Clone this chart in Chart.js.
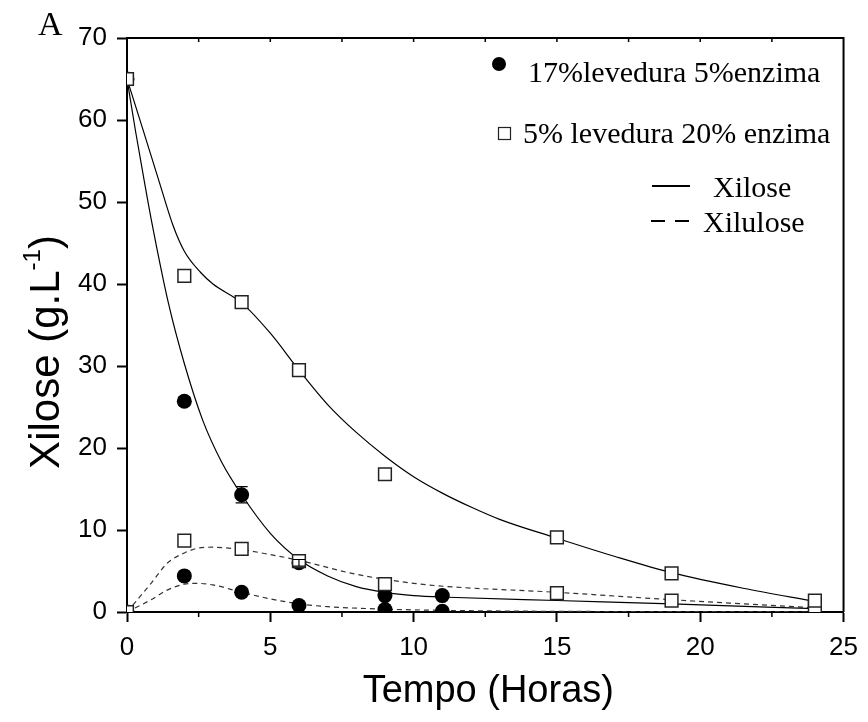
<!DOCTYPE html>
<html>
<head>
<meta charset="utf-8">
<script src="https://cdn.jsdelivr.net/npm/chart.js@4.4.1/dist/chart.umd.min.js"></script>
<style>
    html, body { margin: 0; padding: 0; background: #fff; }
    #wrap { width: 868px; height: 722px; }
</style>
</head>
<body>
<div id="wrap"><canvas id="grafico" width="868" height="722"></canvas></div>
<script>
// Ensaio 17% levedura 5% enzima (tempo em horas)
const tempoA = [0, 2, 4, 6, 9, 11];
const xiloseA = [65, 25.7, 14.3, 6.0, 2.0, 2.0];
const xiloseAErro = [0, 0.5, 1.0, 0.4, 0, 0];
const xiluloseA = [0, 4.4, 2.4, 0.8, 0.3, 0.1];

// Ensaio 5% levedura 20% enzima
const tempoB = [0, 2, 4, 6, 9, 15, 19, 24];
const xiloseB = [65, 41, 37.8, 29.5, 16.8, 9.1, 4.7, 1.4];
const xiluloseB = [0, 8.7, 7.7, 6.2, 3.4, 2.3, 1.4, 0.5];

// Curvas ajustadas
const tAjXilA = [0, 0.3, 0.6, 0.85, 1.45, 2, 2.64, 3.3, 4, 5, 6, 7, 8, 9, 10, 11.2, 15, 19, 24];
const ajXiloseA = [65, 58.6, 52.6, 47.8, 37.6, 30.3, 23.4, 18.3, 14.3, 9.6, 6.4, 4.4, 3.1, 2.4, 2.0, 1.8, 1.4, 1.0, 0.4];
const tAjXilB = [0, 0.56, 1.13, 1.6, 2, 2.57, 3, 4, 5, 6, 7, 8, 9, 10, 11, 12, 13, 15, 17, 19, 21.5, 24];
const ajXiloseB = [65, 58.8, 52.4, 47.2, 44.0, 41.4, 40.0, 37.7, 34.0, 29.5, 25.3, 21.9, 19.0, 16.5, 14.5, 12.8, 11.3, 9.0, 6.8, 4.8, 2.9, 1.3];
const tAjXiluA = [0, 0.84, 1.42, 2, 2.4, 3, 4, 5, 6, 7, 9, 11, 15, 24];
const ajXiluloseA = [0, 1.5, 2.7, 3.4, 3.5, 3.3, 2.4, 1.6, 1.0, 0.65, 0.35, 0.2, 0.08, 0.03];
const tAjXiluB = [0, 0.84, 1.42, 2, 2.5, 3, 4, 5, 6, 8, 10, 11.2, 15, 19, 24];
const ajXiluloseB = [0, 3.5, 6.0, 7.2, 7.8, 7.9, 7.6, 7.0, 6.3, 4.6, 3.5, 3.1, 2.4, 1.5, 0.5];

const pares = (xs, ys) => xs.map((x, i) => ({ x: x, y: ys[i] }));

function curva(xs, ys, tracejada) {
    return {
        data: pares(xs, ys),
        showLine: true,
        pointRadius: 0,
        borderColor: tracejada ? '#333' : '#000',
        borderWidth: 1.2,
        borderDash: tracejada ? [5, 4] : [],
        cubicInterpolationMode: 'monotone',
        order: 3
    };
}

function circulos(ys) {
    return {
        data: pares(tempoA, ys),
        pointStyle: 'circle',
        pointRadius: 7.5,
        backgroundColor: '#000',
        borderColor: '#000',
        borderWidth: 0,
        order: 2
    };
}

function quadrados(ys) {
    return {
        data: pares(tempoB, ys),
        pointStyle: 'rect',
        pointRadius: 9,
        backgroundColor: '#fff',
        borderColor: '#222',
        borderWidth: 1.5,
        order: 1
    };
}

// Moldura, marcas menores, barras de erro, legenda e títulos
const extras = {
    id: 'extras',
    afterDatasetsDraw(chart) {
        const ctx = chart.ctx;
        const a = chart.chartArea;
        const x = chart.scales.x;
        const y = chart.scales.y;
        ctx.save();

        // barras de erro
        ctx.strokeStyle = '#000';
        ctx.lineWidth = 1.2;
        tempoA.forEach((t, i) => {
            const e = xiloseAErro[i];
            if (!e) return;
            const px = x.getPixelForValue(t);
            const y1 = y.getPixelForValue(xiloseA[i] + e);
            const y2 = y.getPixelForValue(xiloseA[i] - e);
            ctx.beginPath();
            ctx.moveTo(px, y1); ctx.lineTo(px, y2);
            ctx.moveTo(px - 6, y1); ctx.lineTo(px + 6, y1);
            ctx.moveTo(px - 6, y2); ctx.lineTo(px + 6, y2);
            ctx.stroke();
        });

        // topo e direita
        ctx.lineWidth = 2;
        ctx.beginPath();
        ctx.moveTo(a.left, a.top); ctx.lineTo(a.right, a.top); ctx.lineTo(a.right, a.bottom);
        ctx.stroke();

        // marcas menores
        ctx.lineWidth = 1.5;
        ctx.beginPath();
        for (let t = 2.5; t < 25; t += 2.5) {
            const px = x.getPixelForValue(t);
            ctx.moveTo(px, a.top); ctx.lineTo(px, a.top + 4);
            if (t % 5 !== 0) {
                ctx.moveTo(px, a.bottom); ctx.lineTo(px, a.bottom + 5);
            }
        }
        ctx.stroke();

        // legenda
        ctx.fillStyle = '#000';
        ctx.font = '30px "Liberation Serif"';
        ctx.textBaseline = 'alphabetic';
        ctx.beginPath();
        ctx.arc(499, 64, 7, 0, Math.PI * 2);
        ctx.fill();
        ctx.fillText('17%levedura 5%enzima', 528, 82);
        ctx.lineWidth = 1.2;
        ctx.strokeStyle = '#222';
        ctx.strokeRect(498.5, 127.5, 12, 12);
        ctx.fillText('5% levedura 20% enzima', 523, 143);
        ctx.strokeStyle = '#000';
        ctx.lineWidth = 2;
        ctx.beginPath();
        ctx.moveTo(652, 186); ctx.lineTo(690, 186);
        ctx.moveTo(651, 221); ctx.lineTo(665, 221);
        ctx.moveTo(675, 221); ctx.lineTo(689, 221);
        ctx.stroke();
        ctx.fillText('Xilose', 713, 197);
        ctx.fillText('Xilulose', 703, 232);

        ctx.font = '34px "Liberation Serif"';
        ctx.fillText('A', 38, 35);

        // títulos dos eixos
        ctx.font = '38px "Liberation Sans"';
        ctx.textAlign = 'center';
        ctx.fillText('Tempo (Horas)', (a.left + a.right) / 2 + 3, 702);

        ctx.textAlign = 'left';
        ctx.translate(59, 352);
        ctx.rotate(-Math.PI / 2);
        const principal = 'Xilose (g.L';
        const sobrescrito = '-1';
        ctx.font = '42px "Liberation Sans"';
        const w1 = ctx.measureText(principal).width;
        const w3 = ctx.measureText(')').width;
        ctx.font = '24px "Liberation Sans"';
        const w2 = ctx.measureText(sobrescrito).width;
        const x0 = -(w1 + w2 + w3) / 2;
        ctx.font = '42px "Liberation Sans"';
        ctx.fillText(principal, x0, 0);
        ctx.fillText(')', x0 + w1 + w2, 0);
        ctx.font = '24px "Liberation Sans"';
        ctx.fillText(sobrescrito, x0 + w1, -19);
        ctx.restore();
    }
};

const eixo = {
    type: 'linear',
    ticks: { color: '#000', font: { family: '"Liberation Sans"', size: 26 }, padding: 10 },
    grid: { drawOnChartArea: false, drawTicks: true, tickLength: 10, tickWidth: 2, tickColor: '#000' },
    border: { display: true, color: '#000', width: 2 }
};

new Chart(document.getElementById('grafico'), {
    type: 'scatter',
    data: {
        datasets: [
            curva(tAjXilA, ajXiloseA, false),
            curva(tAjXilB, ajXiloseB, false),
            curva(tAjXiluA, ajXiluloseA, true),
            curva(tAjXiluB, ajXiluloseB, true),
            circulos(xiloseA),
            circulos(xiluloseA),
            quadrados(xiloseB),
            quadrados(xiluloseB)
        ]
    },
    options: {
        responsive: false,
        animation: false,
        events: [],
        layout: { padding: { top: 38, right: 21, left: 0, bottom: 0 } },
        plugins: { legend: { display: false }, tooltip: { enabled: false } },
        scales: {
            x: Object.assign({}, eixo, {
                min: 0, max: 25,
                ticks: Object.assign({}, eixo.ticks, { stepSize: 5 }),
                afterFit: s => { s.height = 110; }
            }),
            y: Object.assign({}, eixo, {
                min: 0, max: 70,
                ticks: Object.assign({}, eixo.ticks, { stepSize: 10 }),
                afterFit: s => { s.width = 127; }
            })
        }
    },
    plugins: [extras]
});
</script>
</body>
</html>
